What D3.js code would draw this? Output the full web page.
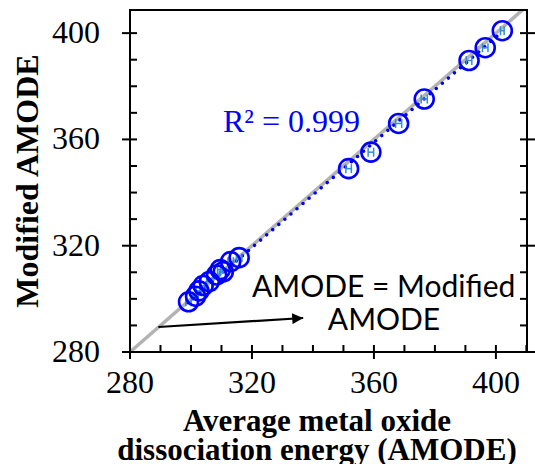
<!DOCTYPE html>
<html>
<head>
<meta charset="utf-8">
<script src="https://cdn.jsdelivr.net/npm/d3@7"></script>
<style>
  body { margin: 0; background: #fff; }
  svg { display: block; }
</style>
</head>
<body>
<div id="chart"></div>
<script>
// measured values (x = average AMODE, y = modified AMODE)
const amode    = [299.2, 301.5, 302.6, 304.0, 306.0, 308.4, 309.6, 310.6, 313.0, 315.8, 351.7, 359.0, 368.1, 376.5, 391.2, 396.5, 402.1];
const modified = [298.9, 301.0, 303.0, 305.0, 306.5, 309.0, 311.0, 310.2, 314.0, 315.5, 349.0, 355.2, 366.0, 375.2, 389.7, 394.5, 400.9];
const xErr     = [0.9, 0.9, 0.9, 0.9, 0.9, 0.9, 0.9, 0.9, 0.9, 0.9, 0.9, 0.9, 1.0, 1.0, 0.9, 0.9, 0.6];

// linear fit shown as dotted line
const fitSlope = 0.99;
const fitIntercept = 2.5;
const fitRange = [299.0, 401.5];

const xTicks = [280, 320, 360, 400];
const yTicks = [280, 320, 360, 400];
const minorTicks = d3.range(280, 411, 10);

const width = 535, height = 464;
const margin = {top: 10, right: 8, bottom: 112, left: 130};

const svg = d3.select('#chart').append('svg')
    .attr('width', width)
    .attr('height', height);

const x = d3.scaleLinear().domain([280, 410.2]).range([margin.left, width - margin.right]);
const y = d3.scaleLinear().domain([280, 408.7]).range([height - margin.bottom, margin.top]);

const serif = '"Liberation Serif", "Times New Roman", serif';

// clip to plot area
svg.append('clipPath').attr('id', 'plot-clip')
  .append('rect')
    .attr('x', x.range()[0]).attr('y', y.range()[1])
    .attr('width', x.range()[1] - x.range()[0])
    .attr('height', y.range()[0] - y.range()[1]);

const plot = svg.append('g').attr('clip-path', 'url(#plot-clip)');

// y = x reference line
plot.append('line')
    .attr('x1', x(280)).attr('y1', y(280))
    .attr('x2', x(420)).attr('y2', y(420))
    .attr('stroke', '#b3b3b3')
    .attr('stroke-width', 3.5);

// dotted fit
plot.append('line')
    .attr('x1', x(fitRange[0])).attr('y1', y(fitSlope * fitRange[0] + fitIntercept))
    .attr('x2', x(fitRange[1])).attr('y2', y(fitSlope * fitRange[1] + fitIntercept))
    .attr('stroke', '#0000ff')
    .attr('stroke-width', 3.6)
    .attr('stroke-linecap', 'round')
    .attr('stroke-dasharray', '0 8');

const pts = amode.map((d, i) => ({x: d, y: modified[i], e: xErr[i]}));

// error bars (H shaped)
const eb = plot.append('g')
    .attr('stroke', '#2f8fd8')
    .attr('stroke-width', 1.5);
pts.forEach(p => {
    eb.append('line')
        .attr('x1', x(p.x - p.e)).attr('x2', x(p.x + p.e))
        .attr('y1', y(p.y)).attr('y2', y(p.y));
    [p.x - p.e, p.x + p.e].forEach(v => {
        eb.append('line')
            .attr('x1', x(v)).attr('x2', x(v))
            .attr('y1', y(p.y) - 4.5).attr('y2', y(p.y) + 4.5);
    });
});

// open circles
plot.selectAll('circle.pt')
  .data(pts)
  .join('circle')
    .attr('class', 'pt')
    .attr('cx', d => x(d.x))
    .attr('cy', d => y(d.y))
    .attr('r', 9.5)
    .attr('fill', 'none')
    .attr('stroke', '#0000ff')
    .attr('stroke-width', 2.6);

// frame
svg.append('rect')
    .attr('x', x.range()[0]).attr('y', y.range()[1])
    .attr('width', x.range()[1] - x.range()[0])
    .attr('height', y.range()[0] - y.range()[1])
    .attr('fill', 'none')
    .attr('stroke', '#000')
    .attr('stroke-width', 2);

// ticks
const tk = svg.append('g').attr('stroke', '#000').attr('stroke-width', 2);
minorTicks.forEach(v => {
    const major = xTicks.includes(v);
    // bottom
    tk.append('line')
        .attr('x1', x(v)).attr('x2', x(v))
        .attr('y1', y.range()[0] + (major ? 7 : 0)).attr('y2', y.range()[0] - 7);
});
minorTicks.filter(v => v <= 408).forEach(v => {
    const major = yTicks.includes(v);
    // left
    tk.append('line')
        .attr('y1', y(v)).attr('y2', y(v))
        .attr('x1', x.range()[0] - (major ? 8 : 0)).attr('x2', x.range()[0] + 7);
    // right
    tk.append('line')
        .attr('y1', y(v)).attr('y2', y(v))
        .attr('x1', x.range()[1] + (major ? 8 : 0)).attr('x2', x.range()[1] - 7);
});

// tick labels
svg.append('g').selectAll('text')
  .data(xTicks)
  .join('text')
    .attr('x', d => x(d))
    .attr('y', 393)
    .attr('text-anchor', 'middle')
    .attr('font-family', serif)
    .attr('font-size', 32)
    .text(d => d);

svg.append('g').selectAll('text')
  .data(yTicks)
  .join('text')
    .attr('x', 100)
    .attr('y', d => y(d) + 10)
    .attr('text-anchor', 'end')
    .attr('font-family', serif)
    .attr('font-size', 32)
    .text(d => d);

// axis titles
const xTitle = svg.append('text')
    .attr('text-anchor', 'middle')
    .attr('font-family', serif)
    .attr('font-weight', 'bold')
    .attr('font-size', 31);
xTitle.append('tspan').attr('x', 317).attr('y', 431).text('Average metal oxide');
xTitle.append('tspan').attr('x', 317).attr('y', 460).text('dissociation energy (AMODE)');

svg.append('text')
    .attr('transform', 'translate(38,181) rotate(-90)')
    .attr('text-anchor', 'middle')
    .attr('font-family', serif)
    .attr('font-weight', 'bold')
    .attr('font-size', 32)
    .text('Modified AMODE');

// annotations
svg.append('text')
    .attr('x', 223).attr('y', 132)
    .attr('font-family', serif)
    .attr('font-size', 32)
    .attr('fill', '#0000ff')
    .text('R² = 0.999');

const sans = 'Lato, "Open Sans", sans-serif';
svg.append('text')
    .attr('x', 252).attr('y', 297)
    .attr('font-family', sans)
    .attr('font-size', 30)
    .text('AMODE = Modified');
svg.append('text')
    .attr('x', 384).attr('y', 330)
    .attr('text-anchor', 'middle')
    .attr('font-family', sans)
    .attr('font-size', 30)
    .text('AMODE');

svg.append('defs').append('marker')
    .attr('id', 'arrow')
    .attr('viewBox', '0 0 10 10')
    .attr('refX', 10).attr('refY', 5)
    .attr('markerWidth', 7).attr('markerHeight', 5)
    .attr('markerUnits', 'strokeWidth')
    .attr('orient', 'auto')
  .append('path')
    .attr('d', 'M0,0 L10,5 L0,10 Z')
    .attr('fill', '#000');

svg.append('line')
    .attr('x1', x(289.3)).attr('y1', y(289.4))
    .attr('x2', x(336.8)).attr('y2', y(292.8))
    .attr('stroke', '#000')
    .attr('stroke-width', 2.2)
    .attr('marker-end', 'url(#arrow)');
</script>
</body>
</html>
